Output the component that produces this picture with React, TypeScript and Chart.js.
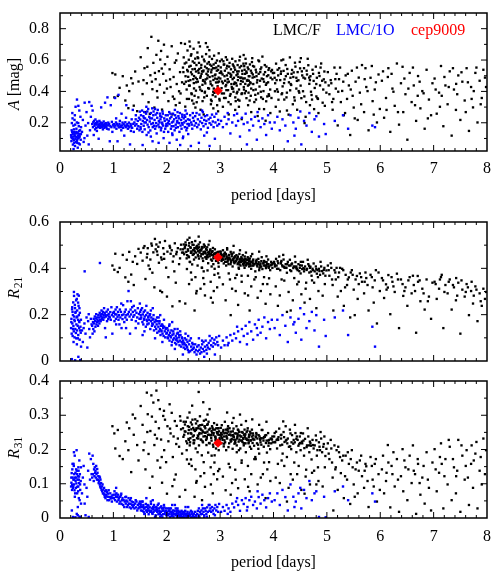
import React, { useEffect, useRef } from "react";
import { Chart, registerables } from "chart.js";
Chart.register(...registerables);

// Each row: [period (days), A (mag), R21, R31]
const LMC_F: number[][] = [
  [0.982,0.517,0.412,0.268],[1.036,0.508,0.463,0.203],[1.083,0.371,0.384,0.257],[1.117,0.423,0.402,0.181],
  [1.176,0.497,0.458,0.172],[1.224,0.342,0.361,0.224],[1.251,0.438,0.437,0.279],[1.297,0.402,0.471,0.262],
  [1.334,0.484,0.373,0.134],[1.382,0.309,0.328,0.243],[1.408,0.527,0.452,0.291],[1.446,0.274,0.419,0.213],
  [1.471,0.463,0.484,0.168],[1.018,0.362,0.394,0.247],[1.281,0.293,0.342,0.198],[1.363,0.451,0.428,0.302],
  [1.512,0.618,0.468,0.327],[1.547,0.383,0.433,0.272],[1.583,0.548,0.496,0.221],[1.601,0.268,0.354,0.142],
  [1.627,0.452,0.447,0.366],[1.644,0.676,0.487,0.303],[1.659,0.331,0.412,0.187],[1.693,0.503,0.438,0.254],
  [1.712,0.748,0.507,0.358],[1.731,0.414,0.381,0.121],[1.749,0.582,0.469,0.337],[1.768,0.297,0.318,0.213],
  [1.792,0.478,0.482,0.281],[1.806,0.633,0.503,0.372],[1.827,0.361,0.458,0.168],[1.853,0.529,0.424,0.262],
  [1.871,0.443,0.512,0.318],[1.894,0.658,0.447,0.229],[1.912,0.284,0.297,0.103],[1.934,0.512,0.487,0.298],
  [1.952,0.392,0.441,0.198],[1.967,0.573,0.518,0.287],[1.988,0.468,0.403,0.163],[2.013,0.621,0.472,0.268],
  [2.031,0.338,0.362,0.224],[2.054,0.541,0.497,0.332],[2.072,0.428,0.463,0.247],[2.093,0.688,0.478,0.307],
  [2.114,0.367,0.429,0.178],[2.128,0.492,0.452,0.238],[2.151,0.583,0.508,0.283],[2.169,0.312,0.338,0.127],
  [2.187,0.447,0.471,0.269],[2.208,0.642,0.487,0.232],[2.231,0.401,0.418,0.208],[2.249,0.523,0.443,0.297],
  [2.268,0.708,0.502,0.259],[2.287,0.458,0.468,0.188],[1.683,0.257,0.397,0.088],[1.878,0.603,0.303,0.147],
  [2.004,0.418,0.278,0.071],[2.142,0.352,0.387,0.112],[1.778,0.518,0.527,0.243],[2.241,0.327,0.258,0.062],
  [1.948,0.698,0.462,0.313],[1.564,0.472,0.488,0.198],[1.636,0.557,0.462,0.251],[1.722,0.462,0.498,0.296],
  [1.817,0.402,0.473,0.232],[1.906,0.546,0.438,0.178],[2.062,0.477,0.489,0.261],[2.178,0.598,0.461,0.216],
  [2.259,0.387,0.482,0.284],[2.106,0.253,0.236,0.093],[1.842,0.723,0.493,0.344],
  [2.304,0.552,0.482,0.262],[2.318,0.617,0.503,0.281],[2.327,0.448,0.461,0.243],[2.341,0.703,0.494,0.273],
  [2.352,0.497,0.512,0.252],[2.366,0.584,0.471,0.224],[2.373,0.412,0.443,0.198],[2.389,0.661,0.523,0.293],
  [2.394,0.528,0.482,0.268],[2.407,0.467,0.452,0.231],[2.413,0.602,0.498,0.257],[2.426,0.718,0.532,0.308],
  [2.431,0.437,0.428,0.212],[2.448,0.563,0.488,0.248],[2.452,0.628,0.467,0.279],[2.468,0.382,0.351,0.152],
  [2.473,0.509,0.513,0.273],[2.487,0.591,0.458,0.238],[2.496,0.478,0.479,0.263],[2.503,0.672,0.501,0.227],
  [2.511,0.419,0.438,0.219],[2.527,0.543,0.473,0.254],[2.534,0.609,0.518,0.288],[2.542,0.487,0.447,0.203],
  [2.556,0.568,0.493,0.262],[2.561,0.331,0.302,0.108],[2.574,0.648,0.483,0.283],[2.583,0.462,0.458,0.241],
  [2.597,0.518,0.503,0.269],[2.604,0.582,0.442,0.212],[2.615,0.428,0.468,0.248],[2.622,0.687,0.512,0.297],
  [2.638,0.497,0.452,0.229],[2.643,0.551,0.478,0.258],[2.657,0.403,0.403,0.183],[2.664,0.622,0.492,0.272],
  [2.679,0.468,0.461,0.221],[2.681,0.527,0.432,0.251],[2.696,0.603,0.503,0.284],[2.702,0.362,0.332,0.131],
  [2.718,0.558,0.472,0.239],[2.723,0.451,0.448,0.262],[2.737,0.638,0.483,0.228],[2.744,0.512,0.441,0.213],
  [2.758,0.483,0.491,0.272],[2.762,0.577,0.457,0.252],[2.776,0.421,0.422,0.191],[2.783,0.541,0.502,0.281],
  [2.797,0.663,0.468,0.243],[2.804,0.492,0.452,0.218],[2.812,0.571,0.478,0.261],[2.827,0.318,0.273,0.098],
  [2.833,0.522,0.462,0.234],[2.848,0.607,0.433,0.268],[2.851,0.438,0.471,0.249],[2.866,0.548,0.488,0.214],
  [2.874,0.473,0.443,0.242],[2.887,0.628,0.462,0.277],[2.893,0.391,0.372,0.162],[2.902,0.503,0.482,0.258],
  [2.917,0.582,0.451,0.232],[2.923,0.457,0.432,0.203],[2.938,0.532,0.468,0.251],[2.941,0.597,0.438,0.272],
  [2.953,0.433,0.458,0.221],[2.968,0.562,0.423,0.243],[2.972,0.488,0.452,0.262],[2.986,0.352,0.361,0.143],
  [2.993,0.518,0.472,0.229],[2.312,0.523,0.468,0.237],[2.337,0.578,0.487,0.253],[2.358,0.462,0.501,0.281],
  [2.383,0.537,0.457,0.218],[2.402,0.493,0.476,0.247],[2.421,0.558,0.509,0.266],[2.443,0.472,0.491,0.233],
  [2.461,0.637,0.472,0.259],[2.482,0.541,0.502,0.287],[2.507,0.453,0.463,0.241],[2.518,0.582,0.487,0.227],
  [2.548,0.527,0.468,0.276],[2.567,0.478,0.497,0.233],[2.589,0.612,0.474,0.262],[2.609,0.543,0.491,0.245],
  [2.628,0.487,0.477,0.271],[2.648,0.569,0.462,0.228],[2.669,0.442,0.489,0.255],[2.688,0.533,0.471,0.238],
  [2.708,0.592,0.492,0.267],[2.729,0.477,0.464,0.249],[2.749,0.548,0.479,0.232],[2.768,0.502,0.448,0.274],
  [2.789,0.587,0.471,0.258],[2.818,0.463,0.482,0.242],[2.839,0.538,0.457,0.226],[2.858,0.497,0.474,0.263],
  [2.879,0.572,0.448,0.248],[2.908,0.482,0.463,0.236],[2.929,0.552,0.448,0.262],[2.947,0.478,0.441,0.247],
  [2.962,0.537,0.462,0.227],[2.981,0.463,0.437,0.253],[2.998,0.592,0.459,0.242],[2.347,0.303,0.248,0.082],
  [2.454,0.522,0.382,0.171],[2.521,0.372,0.218,0.062],[2.578,0.618,0.412,0.192],[2.633,0.283,0.312,0.122],
  [2.684,0.472,0.358,0.338],[2.716,0.398,0.283,0.091],[2.764,0.683,0.391,0.302],[2.823,0.447,0.342,0.148],
  [2.862,0.377,0.252,0.072],[2.897,0.548,0.398,0.183],[2.944,0.312,0.318,0.113],[2.598,0.712,0.537,0.368],
  [2.418,0.437,0.332,0.158],[2.476,0.342,0.417,0.328],[2.552,0.458,0.292,0.103],[2.661,0.528,0.402,0.052],
  [2.802,0.622,0.518,0.318],[2.881,0.418,0.302,0.128],[2.973,0.643,0.407,0.198],[2.378,0.352,0.397,0.171],
  [2.537,0.297,0.362,0.142],[2.692,0.253,0.387,0.163],[2.841,0.338,0.408,0.182],[2.962,0.273,0.378,0.137],
  [2.437,0.687,0.427,0.221],[2.733,0.708,0.448,0.287],
  [2.512,0.498,0.478,0.258],[2.588,0.533,0.488,0.239],[2.652,0.512,0.483,0.247],[2.712,0.462,0.497,0.268],
  [2.772,0.527,0.468,0.243],[2.838,0.563,0.472,0.254],[2.912,0.508,0.466,0.238],[2.958,0.458,0.471,0.262],
  [2.416,0.352,0.448,0.228],[2.462,0.388,0.472,0.246],[2.503,0.322,0.461,0.218],[2.547,0.405,0.487,0.257],
  [2.592,0.362,0.452,0.232],[2.628,0.412,0.478,0.261],[2.671,0.338,0.443,0.224],[2.713,0.392,0.467,0.249],
  [2.751,0.372,0.452,0.236],[2.792,0.418,0.461,0.219],[2.829,0.347,0.438,0.242],[2.871,0.398,0.457,0.258],
  [2.913,0.367,0.447,0.227],[2.952,0.412,0.433,0.248],[2.991,0.342,0.452,0.233],[2.873,0.292,0.418,0.208],
  [3.004,0.482,0.451,0.242],[3.012,0.553,0.472,0.263],[3.027,0.421,0.432,0.218],[3.031,0.603,0.458,0.271],
  [3.046,0.508,0.441,0.228],[3.053,0.452,0.478,0.252],[3.068,0.571,0.421,0.209],[3.072,0.387,0.452,0.238],
  [3.089,0.532,0.468,0.281],[3.094,0.468,0.428,0.221],[3.107,0.618,0.462,0.258],[3.113,0.441,0.412,0.198],
  [3.128,0.502,0.447,0.247],[3.132,0.563,0.481,0.232],[3.149,0.408,0.437,0.268],[3.156,0.518,0.418,0.207],
  [3.163,0.462,0.458,0.243],[3.177,0.582,0.442,0.262],[3.184,0.372,0.352,0.148],[3.198,0.493,0.471,0.223],
  [3.203,0.541,0.427,0.252],[3.218,0.428,0.452,0.231],[3.226,0.608,0.461,0.278],[3.234,0.478,0.408,0.202],
  [3.247,0.523,0.441,0.238],[3.251,0.398,0.468,0.261],[3.268,0.552,0.422,0.217],[3.273,0.457,0.448,0.247],
  [3.287,0.592,0.432,0.228],[3.292,0.338,0.302,0.112],[3.306,0.503,0.457,0.268],[3.311,0.437,0.438,0.212],
  [3.328,0.568,0.418,0.241],[3.332,0.472,0.451,0.258],[3.347,0.528,0.403,0.223],[3.354,0.412,0.428,0.252],
  [3.361,0.598,0.462,0.229],[3.378,0.487,0.441,0.203],[3.383,0.447,0.412,0.238],[3.397,0.562,0.448,0.272],
  [3.402,0.383,0.368,0.161],[3.418,0.512,0.432,0.222],[3.424,0.462,0.457,0.249],[3.437,0.577,0.421,0.231],
  [3.443,0.428,0.438,0.212],[3.458,0.538,0.402,0.258],[3.461,0.483,0.451,0.237],[3.476,0.608,0.428,0.218],
  [3.482,0.402,0.412,0.192],[3.497,0.518,0.437,0.251],[3.503,0.468,0.422,0.228],[3.517,0.553,0.448,0.262],
  [3.524,0.312,0.283,0.091],[3.536,0.497,0.431,0.221],[3.541,0.443,0.408,0.243],[3.558,0.572,0.442,0.208],
  [3.563,0.458,0.418,0.252],[3.577,0.532,0.452,0.227],[3.582,0.418,0.398,0.202],[3.596,0.587,0.428,0.258],
  [3.608,0.488,0.412,0.219],[3.621,0.447,0.438,0.241],[3.637,0.558,0.418,0.211],[3.659,0.378,0.387,0.178],
  [3.677,0.522,0.431,0.248],[3.698,0.472,0.408,0.232],[3.716,0.598,0.441,0.202],[3.738,0.431,0.402,0.238],
  [3.757,0.542,0.421,0.221],[3.779,0.482,0.448,0.257],[3.801,0.352,0.332,0.128],[3.818,0.508,0.412,0.208],
  [3.837,0.568,0.428,0.237],[3.858,0.442,0.401,0.219],[3.877,0.497,0.418,0.191],[3.899,0.458,0.438,0.248],
  [3.918,0.548,0.408,0.228],[3.938,0.412,0.392,0.201],[3.957,0.528,0.428,0.218],[3.979,0.477,0.402,0.238],
  [3.018,0.527,0.463,0.248],[3.038,0.463,0.447,0.233],[3.061,0.592,0.437,0.257],[3.082,0.497,0.459,0.227],
  [3.101,0.433,0.441,0.249],[3.121,0.547,0.452,0.236],[3.142,0.478,0.429,0.261],[3.169,0.558,0.447,0.218],
  [3.191,0.513,0.438,0.244],[3.211,0.447,0.462,0.226],[3.238,0.572,0.437,0.253],[3.258,0.487,0.427,0.237],
  [3.281,0.538,0.452,0.222],[3.299,0.452,0.431,0.247],[3.318,0.527,0.441,0.232],[3.341,0.493,0.423,0.257],
  [3.367,0.553,0.437,0.241],[3.391,0.467,0.427,0.226],[3.411,0.532,0.442,0.251],[3.431,0.482,0.418,0.233],
  [3.452,0.561,0.432,0.218],[3.471,0.448,0.441,0.245],[3.491,0.527,0.417,0.232],[3.512,0.473,0.437,0.255],
  [3.531,0.542,0.422,0.228],[3.551,0.497,0.431,0.243],[3.571,0.452,0.411,0.226],[3.592,0.518,0.427,0.238],
  [3.616,0.562,0.433,0.247],[3.642,0.492,0.418,0.229],[3.668,0.538,0.428,0.236],[3.691,0.457,0.413,0.218],
  [3.722,0.512,0.427,0.242],[3.749,0.468,0.416,0.231],[3.772,0.553,0.431,0.214],[3.808,0.478,0.421,0.233],
  [3.842,0.523,0.412,0.241],[3.871,0.452,0.427,0.226],[3.906,0.537,0.418,0.211],[3.947,0.487,0.413,0.232],
  [3.988,0.517,0.422,0.221],[3.052,0.302,0.331,0.121],[3.103,0.358,0.262,0.081],[3.161,0.253,0.378,0.158],
  [3.224,0.417,0.312,0.102],[3.283,0.282,0.358,0.141],[3.337,0.347,0.242,0.087],[3.404,0.223,0.342,0.168],
  [3.462,0.388,0.292,0.113],[3.521,0.437,0.368,0.152],[3.583,0.268,0.322,0.128],[3.641,0.332,0.352,0.172],
  [3.703,0.243,0.273,0.098],[3.762,0.398,0.302,0.118],[3.823,0.287,0.362,0.162],[3.884,0.368,0.332,0.142],
  [3.941,0.262,0.288,0.108],[3.131,0.602,0.487,0.308],[3.252,0.563,0.497,0.292],[3.372,0.621,0.478,0.302],
  [3.484,0.578,0.468,0.283],[3.602,0.612,0.462,0.288],[3.731,0.592,0.472,0.272],[3.868,0.558,0.452,0.281],
  [3.198,0.318,0.198,0.068],[3.553,0.342,0.218,0.078],[3.852,0.213,0.247,0.058],[3.312,0.388,0.372,0.192],
  [3.667,0.412,0.362,0.172],[3.917,0.372,0.357,0.163],[3.441,0.632,0.412,0.218],[3.792,0.622,0.397,0.257],
  [3.023,0.517,0.449,0.238],[3.078,0.572,0.462,0.247],[3.138,0.457,0.443,0.256],[3.208,0.503,0.433,0.241],
  [3.263,0.447,0.446,0.229],[3.327,0.512,0.447,0.246],[3.398,0.488,0.436,0.238],[3.468,0.512,0.426,0.242],
  [3.538,0.468,0.441,0.236],[3.612,0.508,0.422,0.232],[3.682,0.497,0.437,0.244],[3.752,0.523,0.411,0.228],
  [3.822,0.462,0.432,0.236],[3.902,0.503,0.408,0.226],[3.972,0.537,0.417,0.229],
  [3.033,0.387,0.437,0.244],[3.074,0.358,0.452,0.217],[3.117,0.408,0.428,0.239],[3.157,0.332,0.443,0.252],
  [3.196,0.383,0.418,0.228],[3.243,0.418,0.437,0.242],[3.284,0.362,0.427,0.219],[3.323,0.397,0.441,0.237],
  [3.363,0.341,0.417,0.251],[3.408,0.388,0.432,0.226],[3.447,0.412,0.422,0.243],[3.493,0.357,0.437,0.231],
  [3.532,0.392,0.417,0.218],[3.574,0.372,0.428,0.247],[3.623,0.408,0.412,0.229],[3.672,0.348,0.422,0.238],
  [3.712,0.387,0.418,0.214],[3.768,0.362,0.407,0.233],[3.812,0.402,0.423,0.226],[3.863,0.337,0.411,0.242],
  [3.911,0.382,0.402,0.219],[3.962,0.358,0.417,0.231],[3.352,0.302,0.398,0.198],[3.732,0.288,0.392,0.188],
  [4.012,0.518,0.428,0.238],[4.031,0.452,0.412,0.221],[4.048,0.577,0.441,0.252],[4.067,0.413,0.398,0.203],
  [4.088,0.502,0.422,0.228],[4.107,0.548,0.451,0.261],[4.126,0.472,0.392,0.212],[4.148,0.598,0.432,0.243],
  [4.171,0.432,0.408,0.188],[4.189,0.531,0.438,0.251],[4.207,0.477,0.402,0.222],[4.228,0.568,0.418,0.268],
  [4.251,0.392,0.381,0.178],[4.268,0.512,0.428,0.232],[4.289,0.458,0.412,0.208],[4.307,0.617,0.437,0.258],
  [4.332,0.441,0.388,0.201],[4.348,0.537,0.421,0.242],[4.371,0.492,0.401,0.217],[4.389,0.362,0.358,0.162],
  [4.411,0.558,0.427,0.248],[4.428,0.418,0.408,0.192],[4.452,0.523,0.392,0.228],[4.467,0.471,0.418,0.211],
  [4.492,0.588,0.402,0.238],[4.508,0.437,0.378,0.198],[4.531,0.528,0.412,0.223],[4.553,0.401,0.428,0.247],
  [4.572,0.548,0.387,0.182],[4.591,0.482,0.408,0.231],[4.612,0.332,0.338,0.141],[4.628,0.508,0.398,0.212],
  [4.652,0.567,0.418,0.238],[4.671,0.448,0.382,0.192],[4.692,0.497,0.407,0.218],[4.713,0.377,0.368,0.171],
  [4.731,0.538,0.398,0.228],[4.752,0.467,0.421,0.203],[4.772,0.422,0.387,0.212],[4.793,0.558,0.408,0.241],
  [4.812,0.487,0.377,0.182],[4.833,0.352,0.362,0.148],[4.851,0.518,0.398,0.221],[4.872,0.438,0.372,0.198],
  [4.893,0.578,0.408,0.232],[4.911,0.468,0.388,0.192],[4.932,0.412,0.378,0.208],[4.953,0.527,0.402,0.238],
  [4.972,0.458,0.368,0.181],[4.991,0.392,0.391,0.202],[4.022,0.487,0.418,0.248],[4.077,0.538,0.431,0.231],
  [4.137,0.512,0.421,0.242],[4.198,0.453,0.407,0.236],[4.258,0.543,0.418,0.218],[4.318,0.487,0.412,0.247],
  [4.378,0.521,0.408,0.228],[4.438,0.467,0.397,0.238],[4.498,0.547,0.413,0.219],[4.561,0.488,0.401,0.226],
  [4.621,0.532,0.393,0.207],[4.682,0.472,0.402,0.223],[4.742,0.512,0.392,0.213],[4.802,0.447,0.397,0.227],
  [4.862,0.498,0.388,0.208],[4.942,0.477,0.393,0.216],[4.042,0.302,0.322,0.118],[4.118,0.272,0.283,0.102],
  [4.202,0.348,0.347,0.152],[4.283,0.252,0.298,0.088],[4.362,0.318,0.262,0.112],[4.443,0.283,0.331,0.128],
  [4.522,0.357,0.288,0.082],[4.602,0.238,0.312,0.121],[4.683,0.312,0.268,0.098],[4.761,0.287,0.338,0.138],
  [4.842,0.262,0.302,0.108],[4.921,0.328,0.282,0.092],[4.082,0.398,0.238,0.158],[4.322,0.447,0.218,0.128],
  [4.582,0.198,0.252,0.071],[4.803,0.368,0.228,0.098],[4.182,0.603,0.458,0.282],[4.402,0.583,0.451,0.272],
  [4.641,0.608,0.437,0.262],[4.882,0.552,0.428,0.251],[4.152,0.382,0.352,0.168],[4.472,0.402,0.342,0.152],
  [4.722,0.348,0.348,0.132],[4.962,0.308,0.332,0.148],[4.512,0.612,0.428,0.248],[4.252,0.278,0.212,0.048],
  [4.058,0.472,0.412,0.228],[4.142,0.527,0.427,0.232],[4.232,0.497,0.402,0.226],[4.338,0.512,0.418,0.221],
  [4.428,0.487,0.401,0.231],[4.538,0.502,0.397,0.218],[4.668,0.488,0.411,0.212],
  [4.027,0.401,0.408,0.222],[4.093,0.347,0.398,0.236],[4.162,0.388,0.413,0.214],[4.243,0.362,0.402,0.228],
  [4.312,0.407,0.392,0.209],[4.398,0.342,0.407,0.221],[4.483,0.392,0.388,0.216],[4.578,0.368,0.397,0.204],
  [4.702,0.398,0.386,0.211],[4.823,0.357,0.392,0.198],
  [5.018,0.523,0.412,0.218],[5.047,0.382,0.368,0.172],[5.083,0.452,0.402,0.203],[5.108,0.283,0.328,0.118],
  [5.142,0.552,0.392,0.212],[5.167,0.418,0.352,0.148],[5.203,0.183,0.278,0.082],[5.228,0.478,0.382,0.192],
  [5.262,0.332,0.302,0.131],[5.287,0.403,0.398,0.168],[5.318,0.248,0.238,0.058],[5.352,0.502,0.372,0.182],
  [5.378,0.352,0.328,0.112],[5.412,0.438,0.361,0.158],[5.437,0.122,0.188,0.041],[5.468,0.532,0.392,0.198],
  [5.503,0.297,0.308,0.098],[5.538,0.462,0.352,0.142],[5.577,0.218,0.268,0.072],[5.618,0.392,0.378,0.168],
  [5.658,0.568,0.342,0.122],[5.697,0.268,0.292,0.088],[5.738,0.428,0.358,0.151],[5.781,0.152,0.218,0.032],
  [5.818,0.487,0.372,0.178],[5.857,0.338,0.318,0.112],[5.897,0.412,0.348,0.158],[5.938,0.202,0.162,0.048],
  [5.968,0.508,0.382,0.128],[5.992,0.288,0.302,0.082],[5.072,0.472,0.422,0.228],[5.182,0.512,0.402,0.198],
  [5.307,0.462,0.392,0.182],[5.447,0.412,0.382,0.172],[5.563,0.552,0.367,0.162],[5.708,0.478,0.342,0.138],
  [5.842,0.562,0.362,0.152],[5.121,0.352,0.218,0.022],
  [5.034,0.438,0.392,0.188],[5.097,0.332,0.352,0.162],[5.158,0.478,0.382,0.142],[5.213,0.398,0.362,0.208],
  [5.247,0.552,0.402,0.178],[5.341,0.262,0.318,0.122],[5.392,0.512,0.352,0.192],[5.483,0.372,0.372,0.148],
  [5.522,0.228,0.198,0.062],[5.597,0.488,0.332,0.138],[5.642,0.318,0.362,0.182],[5.723,0.548,0.382,0.158],
  [5.762,0.402,0.328,0.108],[5.878,0.252,0.252,0.092],[5.918,0.458,0.392,0.172],
  [6.031,0.468,0.358,0.142],[6.072,0.232,0.272,0.072],[6.108,0.358,0.331,0.108],[6.152,0.548,0.371,0.162],
  [6.188,0.142,0.202,0.031],[6.228,0.418,0.342,0.128],[6.271,0.308,0.298,0.092],[6.312,0.578,0.377,0.172],
  [6.352,0.188,0.142,0.018],[6.388,0.452,0.352,0.122],[6.431,0.268,0.281,0.078],[6.472,0.382,0.318,0.148],
  [6.508,0.092,0.238,0.052],[6.551,0.518,0.362,0.182],[6.588,0.332,0.292,0.102],[6.628,0.438,0.328,0.138],
  [6.672,0.212,0.122,0.012],[6.708,0.498,0.342,0.158],[6.752,0.292,0.258,0.068],[6.788,0.402,0.312,0.118],
  [6.832,0.162,0.222,0.042],[6.868,0.538,0.352,0.192],[6.912,0.348,0.278,0.088],[6.952,0.248,0.182,0.022],
  [6.142,0.492,0.317,0.213],[6.418,0.557,0.332,0.201],[6.702,0.372,0.367,0.172],[6.978,0.452,0.338,0.162],
  [6.052,0.528,0.348,0.182],[6.118,0.282,0.308,0.132],[6.212,0.512,0.362,0.152],[6.247,0.398,0.322,0.192],
  [6.332,0.268,0.352,0.112],[6.452,0.482,0.302,0.168],[6.527,0.418,0.348,0.142],[6.612,0.552,0.368,0.212],
  [6.652,0.312,0.302,0.128],[6.738,0.462,0.348,0.102],[6.812,0.388,0.292,0.152],[6.892,0.228,0.258,0.112],
  [7.018,0.482,0.342,0.201],[7.058,0.258,0.268,0.078],[7.102,0.392,0.312,0.132],[7.138,0.562,0.362,0.218],
  [7.182,0.178,0.142,0.028],[7.221,0.438,0.328,0.172],[7.262,0.318,0.292,0.098],[7.302,0.528,0.352,0.208],
  [7.338,0.118,0.222,0.052],[7.381,0.412,0.318,0.148],[7.418,0.282,0.262,0.072],[7.462,0.502,0.338,0.228],
  [7.501,0.218,0.118,0.018],[7.538,0.462,0.308,0.182],[7.582,0.342,0.278,0.112],[7.618,0.548,0.332,0.198],
  [7.662,0.148,0.198,0.038],[7.702,0.428,0.302,0.158],[7.738,0.298,0.248,0.088],[7.782,0.518,0.322,0.188],
  [7.822,0.202,0.172,0.028],[7.862,0.468,0.292,0.138],[7.902,0.358,0.238,0.098],[7.962,0.488,0.268,0.128],
  [7.152,0.372,0.372,0.158],[7.422,0.448,0.358,0.122],[7.712,0.352,0.342,0.212],[7.932,0.538,0.312,0.232],
  [7.038,0.412,0.332,0.142],[7.118,0.302,0.352,0.178],[7.202,0.492,0.298,0.122],[7.283,0.428,0.342,0.228],
  [7.362,0.548,0.328,0.172],[7.442,0.382,0.282,0.138],[7.522,0.522,0.348,0.212],[7.602,0.268,0.298,0.152],
  [7.642,0.458,0.318,0.118],[7.752,0.402,0.282,0.168],[7.802,0.552,0.308,0.222],[7.882,0.318,0.258,0.178],
  [7.982,0.428,0.298,0.198],
];

// Each row: [period (days), A (mag), R21, R31]
const LMC_1O: number[][] = [
  [0.208,0.121,0.142,0.092],[0.214,0.083,0.182,0.103],[0.219,0.152,0.118,0.131],[0.226,0.102,0.223,0.082],
  [0.231,0.262,0.162,0.142],[0.237,0.128,0.108,0.118],[0.242,0.061,0.198,0.003],[0.248,0.112,0.253,0.092],
  [0.251,0.182,0.151,0.112],[0.258,0.088,0.128,0.152],[0.263,0.141,0.281,0.098],[0.267,0.072,0.192,0.128],
  [0.272,0.218,0.102,0.081],[0.276,0.118,0.172,0.182],[0.281,0.052,0.228,0.118],[0.287,0.098,0.138,0.002],
  [0.292,0.302,0.212,0.108],[0.298,0.132,0.121,0.088],[0.302,0.078,0.262,0.142],[0.307,0.162,0.158,0.101],
  [0.311,0.108,0.188,0.198],[0.318,0.348,0.132,0.128],[0.322,0.092,0.218,0.072],[0.327,0.138,0.288,0.112],
  [0.332,0.041,0.152,0.008],[0.338,0.118,0.178,0.122],[0.342,0.198,0.112,0.092],[0.348,0.102,0.238,0.138],
  [0.353,0.068,0.198,0.058],[0.358,0.148,0.142,0.102],[0.362,0.278,0.168,0.168],[0.368,0.112,0.092,0.052],
  [0.372,0.062,0.208,0.128],[0.378,0.128,0.004,0.082],[0.383,0.238,0.148,0.002],[0.388,0.092,0.122,0.108],
  [0.394,0.172,0.062,0.042],[0.222,0.198,0.008,0.022],[0.254,0.032,0.082,0.158],[0.284,0.188,0.003,0.072],
  [0.314,0.082,0.268,0.012],[0.344,0.308,0.018,0.148],[0.364,0.122,0.228,0.004],[0.261,0.158,0.298,0.192],
  [0.334,0.102,0.098,0.032],[0.212,0.108,0.168,0.118],[0.228,0.142,0.232,0.097],[0.244,0.098,0.138,0.088],
  [0.269,0.128,0.178,0.112],[0.289,0.112,0.208,0.132],[0.305,0.142,0.098,0.118],[0.324,0.072,0.192,0.091],
  [0.339,0.132,0.252,0.078],[0.357,0.108,0.172,0.121],[0.376,0.152,0.132,0.098],[0.235,0.228,0.212,0.158],
  [0.278,0.248,0.242,0.062],[0.316,0.202,0.072,0.138],[0.352,0.178,0.282,0.112],[0.392,0.128,0.178,0.148],
  [0.412,0.142,0.132,0.072],[0.428,0.218,0.082,0.118],[0.462,0.328,0.387,0.042],[0.458,0.102,0.162,0.098],
  [0.478,0.182,0.118,0.008],[0.497,0.268,0.188,0.088],[0.512,0.118,0.058,0.062],[0.527,0.198,0.172,0.138],
  [0.548,0.332,0.138,0.188],[0.562,0.152,0.102,0.112],[0.578,0.238,0.182,0.172],[0.592,0.308,0.158,0.128],
  [0.443,0.078,0.142,0.152],[0.538,0.062,0.202,0.003],
  [0.603,0.192,0.152,0.118],[0.611,0.278,0.118,0.182],[0.618,0.172,0.168,0.128],[0.624,0.203,0.138,0.158],
  [0.632,0.122,0.182,0.108],[0.638,0.212,0.162,0.142],[0.645,0.181,0.128,0.122],[0.652,0.193,0.192,0.148],
  [0.658,0.158,0.172,0.132],[0.664,0.221,0.148,0.138],[0.671,0.198,0.183,0.118],[0.678,0.168,0.202,0.152],
  [0.683,0.188,0.158,0.128],[0.691,0.148,0.188,0.112],[0.697,0.208,0.168,0.143],[0.748,0.178,0.423,0.118],
  [0.703,0.201,0.178,0.132],[0.712,0.172,0.152,0.112],[0.718,0.188,0.198,0.122],[0.724,0.098,0.172,0.102],
  [0.731,0.182,0.188,0.108],[0.738,0.212,0.162,0.121],[0.744,0.191,0.208,0.098],[0.752,0.168,0.178,0.092],
  [0.758,0.202,0.198,0.112],[0.763,0.178,0.172,0.088],[0.771,0.298,0.192,0.102],[0.778,0.192,0.218,0.082],
  [0.784,0.172,0.182,0.092],[0.791,0.198,0.202,0.078],[0.797,0.182,0.188,0.098],[0.804,0.158,0.212,0.072],
  [0.812,0.188,0.178,0.083],[0.818,0.208,0.198,0.071],[0.826,0.178,0.228,0.088],[0.831,0.168,0.188,0.068],
  [0.838,0.192,0.208,0.062],[0.844,0.328,0.142,0.078],[0.852,0.182,0.198,0.058],[0.858,0.198,0.102,0.068],
  [0.866,0.173,0.192,0.081],[0.873,0.188,0.213,0.063],[0.881,0.162,0.172,0.076],[0.889,0.362,0.198,0.052],
  [0.897,0.183,0.222,0.071],[0.904,0.201,0.181,0.062],[0.912,0.158,0.203,0.081],[0.921,0.192,0.192,0.052],
  [0.933,0.082,0.188,0.061],[0.942,0.178,0.211,0.072],[0.951,0.312,0.178,0.057],[0.963,0.172,0.232,0.062],
  [0.972,0.206,0.198,0.048],[0.981,0.142,0.118,0.066],[0.993,0.188,0.208,0.058],
  [1.004,0.182,0.192,0.068],[1.012,0.191,0.212,0.058],[1.021,0.171,0.172,0.078],[1.032,0.358,0.202,0.052],
  [1.041,0.183,0.222,0.068],[1.048,0.202,0.182,0.062],[1.057,0.162,0.201,0.072],[1.066,0.193,0.232,0.048],
  [1.078,0.082,0.191,0.061],[1.087,0.182,0.212,0.068],[1.096,0.378,0.178,0.052],[1.104,0.171,0.198,0.058],
  [1.113,0.193,0.158,0.042],[1.122,0.212,0.222,0.062],[1.131,0.181,0.188,0.048],[1.142,0.172,0.212,0.066],
  [1.153,0.258,0.142,0.041],[1.162,0.183,0.198,0.052],[1.171,0.201,0.181,0.058],[1.183,0.168,0.241,0.038],
  [1.192,0.192,0.201,0.052],[1.204,0.118,0.168,0.032],[1.213,0.182,0.212,0.048],[1.224,0.203,0.188,0.061],
  [1.232,0.172,0.222,0.042],[1.243,0.312,0.198,0.051],[1.252,0.183,0.178,0.032],[1.263,0.191,0.258,0.048],
  [1.272,0.162,0.202,0.038],[1.284,0.178,0.302,0.058],[1.291,0.201,0.212,0.042],[1.303,0.171,0.192,0.031],
  [1.312,0.062,0.118,0.052],[1.323,0.192,0.222,0.041],[1.332,0.181,0.201,0.028],[1.343,0.222,0.178,0.048],
  [1.352,0.168,0.232,0.038],[1.364,0.282,0.212,0.032],[1.373,0.193,0.191,0.046],[1.382,0.142,0.238,0.038],
  [1.394,0.202,0.198,0.028],[1.408,0.182,0.218,0.042],[1.421,0.248,0.172,0.031],[1.433,0.191,0.208,0.048],
  [1.447,0.162,0.188,0.022],[1.458,0.212,0.228,0.038],[1.468,0.178,0.162,0.028],[1.479,0.232,0.203,0.042],
  [1.489,0.152,0.182,0.032],[1.052,0.228,0.158,0.088],[1.148,0.152,0.248,0.071],[1.238,0.232,0.142,0.062],
  [1.328,0.148,0.258,0.058],[1.418,0.222,0.142,0.052],[1.496,0.271,0.248,0.048],
  [1.503,0.221,0.212,0.031],[1.509,0.172,0.182,0.042],[1.517,0.248,0.221,0.022],[1.523,0.192,0.188,0.032],
  [1.538,0.278,0.228,0.048],[1.544,0.142,0.168,0.021],[1.552,0.212,0.201,0.032],[1.561,0.242,0.158,0.038],
  [1.568,0.181,0.212,0.018],[1.577,0.268,0.182,0.028],[1.587,0.158,0.192,0.012],[1.593,0.228,0.218,0.031],
  [1.608,0.202,0.148,0.041],[1.614,0.258,0.198,0.022],[1.623,0.122,0.178,0.032],[1.631,0.218,0.172,0.018],
  [1.641,0.188,0.208,0.038],[1.652,0.288,0.188,0.028],[1.661,0.172,0.162,0.011],[1.672,0.238,0.178,0.022],
  [1.681,0.208,0.198,0.031],[1.692,0.151,0.138,0.018],[1.704,0.262,0.172,0.041],[1.711,0.192,0.188,0.021],
  [1.723,0.228,0.152,0.028],[1.734,0.082,0.178,0.012],[1.742,0.198,0.158,0.032],[1.753,0.272,0.198,0.018],
  [1.761,0.181,0.132,0.038],[1.772,0.218,0.168,0.022],[1.783,0.162,0.148,0.031],[1.791,0.252,0.178,0.008],
  [1.802,0.198,0.138,0.022],[1.811,0.132,0.158,0.028],[1.822,0.232,0.122,0.018],[1.831,0.282,0.172,0.038],
  [1.843,0.188,0.148,0.011],[1.852,0.212,0.128,0.028],[1.861,0.172,0.162,0.021],[1.872,0.258,0.138,0.012],
  [1.883,0.222,0.112,0.031],[1.891,0.152,0.152,0.018],[1.902,0.238,0.128,0.008],[1.913,0.201,0.158,0.028],
  [1.921,0.272,0.118,0.021],[1.932,0.182,0.142,0.011],[1.941,0.102,0.108,0.022],[1.953,0.228,0.148,0.031],
  [1.962,0.212,0.128,0.012],[1.972,0.162,0.102,0.018],[1.981,0.248,0.138,0.028],[1.992,0.192,0.118,0.008],
  [1.548,0.058,0.112,0.048],[1.618,0.302,0.238,0.058],[1.702,0.112,0.218,0.048],[1.781,0.288,0.098,0.003],
  [1.848,0.072,0.188,0.042],[1.918,0.192,0.082,0.002],[1.582,0.202,0.128,0.012],[1.738,0.172,0.228,0.052],
  [1.878,0.242,0.198,0.004],[1.948,0.142,0.178,0.038],[1.512,0.162,0.198,0.038],[1.572,0.232,0.178,0.028],
  [1.636,0.272,0.158,0.022],[1.688,0.228,0.202,0.018],[1.748,0.248,0.182,0.026],[1.806,0.178,0.172,0.032],
  [1.866,0.202,0.172,0.018],[1.926,0.258,0.152,0.028],[1.986,0.178,0.142,0.021],[1.658,0.138,0.192,0.036],
  [1.728,0.292,0.162,0.014],[1.818,0.262,0.188,0.024],[1.898,0.168,0.132,0.034],
  [2.003,0.221,0.122,0.018],[2.011,0.182,0.142,0.011],[2.018,0.248,0.102,0.028],[2.027,0.142,0.132,0.008],
  [2.038,0.212,0.112,0.021],[2.046,0.268,0.152,0.012],[2.052,0.192,0.088,0.022],[2.063,0.228,0.122,0.003],
  [2.078,0.162,0.102,0.028],[2.087,0.238,0.132,0.012],[2.098,0.202,0.082,0.018],[2.107,0.122,0.112,0.008],
  [2.118,0.258,0.092,0.022],[2.127,0.178,0.118,0.004],[2.138,0.222,0.098,0.012],[2.148,0.152,0.138,0.021],
  [2.157,0.248,0.078,0.011],[2.168,0.188,0.108,0.028],[2.178,0.232,0.072,0.012],[2.187,0.092,0.098,0.018],
  [2.198,0.212,0.088,0.003],[2.207,0.172,0.122,0.012],[2.218,0.242,0.082,0.021],[2.227,0.198,0.102,0.008],
  [2.238,0.142,0.068,0.002],[2.247,0.262,0.088,0.018],[2.258,0.182,0.112,0.011],[2.268,0.218,0.062,0.008],
  [2.277,0.162,0.082,0.021],[2.288,0.252,0.098,0.003],[2.297,0.188,0.072,0.012],[2.308,0.112,0.088,0.018],
  [2.317,0.228,0.058,0.008],[2.328,0.202,0.078,0.002],[2.338,0.172,0.098,0.012],[2.346,0.238,0.052,0.021],
  [2.357,0.212,0.068,0.008],[2.368,0.152,0.092,0.003],[2.377,0.258,0.062,0.012],[2.388,0.192,0.082,0.018],
  [2.397,0.222,0.048,0.004],[2.418,0.182,0.072,0.011],[2.438,0.248,0.042,0.008],[2.458,0.202,0.062,0.002],
  [2.478,0.162,0.078,0.018],[2.492,0.232,0.052,0.008],[2.052,0.072,0.158,0.028],[2.152,0.282,0.052,0.038],
  [2.252,0.058,0.128,0.003],[2.352,0.278,0.118,0.032],[2.452,0.052,0.098,0.021],[2.102,0.132,0.168,0.038],
  [2.202,0.268,0.138,0.028],[2.302,0.102,0.028,0.002],[2.402,0.128,0.108,0.032],[2.022,0.198,0.098,0.012],
  [2.068,0.258,0.108,0.018],[2.122,0.208,0.128,0.014],[2.172,0.168,0.092,0.008],[2.232,0.228,0.112,0.016],
  [2.282,0.198,0.102,0.012],[2.332,0.248,0.072,0.014],[2.382,0.168,0.058,0.006],[2.428,0.218,0.088,0.016],
  [2.468,0.188,0.048,0.012],[2.488,0.262,0.072,0.004],[2.092,0.178,0.068,0.006],[2.192,0.202,0.118,0.022],
  [2.292,0.238,0.082,0.014],[2.412,0.192,0.038,0.006],
  [2.508,0.212,0.058,0.012],[2.521,0.182,0.038,0.003],[2.533,0.242,0.072,0.018],[2.546,0.198,0.048,0.008],
  [2.558,0.262,0.028,0.002],[2.571,0.172,0.062,0.012],[2.583,0.222,0.042,0.021],[2.597,0.188,0.068,0.008],
  [2.612,0.252,0.048,0.003],[2.624,0.208,0.032,0.018],[2.638,0.158,0.058,0.011],[2.651,0.232,0.038,0.022],
  [2.663,0.198,0.072,0.012],[2.677,0.268,0.052,0.028],[2.689,0.178,0.082,0.018],[2.702,0.218,0.042,0.008],
  [2.716,0.242,0.062,0.028],[2.729,0.192,0.088,0.021],[2.742,0.212,0.048,0.012],[2.757,0.248,0.068,0.031],
  [2.771,0.168,0.058,0.018],[2.786,0.222,0.078,0.038],[2.802,0.198,0.052,0.021],[2.818,0.232,0.088,0.028],
  [2.833,0.188,0.068,0.018],[2.848,0.252,0.098,0.032],[2.863,0.208,0.062,0.022],[2.878,0.172,0.078,0.012],
  [2.893,0.238,0.092,0.028],[2.912,0.202,0.072,0.038],[2.928,0.258,0.102,0.022],[2.947,0.182,0.082,0.032],
  [2.963,0.218,0.068,0.018],[2.981,0.192,0.108,0.041],[2.602,0.072,0.098,0.028],[2.702,0.118,0.018,0.002],
  [2.802,0.052,0.108,0.038],[2.902,0.098,0.028,0.008],[2.662,0.278,0.088,0.038],[2.752,0.138,0.032,0.004],
  [3.018,0.212,0.058,0.018],[3.052,0.172,0.088,0.032],[3.083,0.238,0.068,0.021],[3.121,0.192,0.102,0.038],
  [3.158,0.222,0.078,0.028],[3.192,0.132,0.112,0.018],[3.228,0.202,0.088,0.042],[3.262,0.248,0.118,0.031],
  [3.298,0.182,0.098,0.048],[3.337,0.212,0.128,0.038],[3.372,0.112,0.082,0.021],[3.408,0.232,0.138,0.052],
  [3.442,0.192,0.108,0.041],[3.478,0.258,0.152,0.058],[3.512,0.202,0.118,0.032],[3.548,0.152,0.168,0.052],
  [3.583,0.222,0.128,0.062],[3.618,0.182,0.092,0.038],[3.652,0.238,0.158,0.048],[3.688,0.092,0.142,0.028],
  [3.722,0.212,0.178,0.061],[3.758,0.172,0.122,0.042],[3.792,0.228,0.148,0.068],[3.828,0.192,0.188,0.052],
  [3.862,0.122,0.098,0.031],[3.898,0.248,0.168,0.058],[3.932,0.202,0.138,0.072],[3.968,0.162,0.178,0.048],
  [3.142,0.262,0.068,0.012],[3.318,0.258,0.148,0.058],[3.502,0.062,0.072,0.022],[3.702,0.268,0.112,0.078],
  [4.021,0.202,0.142,0.052],[4.072,0.238,0.178,0.072],[4.118,0.152,0.112,0.038],[4.168,0.222,0.198,0.082],
  [4.222,0.182,0.152,0.061],[4.268,0.082,0.082,0.022],[4.318,0.248,0.188,0.098],[4.372,0.202,0.158,0.062],
  [4.418,0.162,0.122,0.048],[4.468,0.232,0.182,0.072],[4.521,0.062,0.092,0.028],[4.572,0.212,0.202,0.082],
  [4.618,0.182,0.142,0.058],[4.672,0.262,0.172,0.108],[4.718,0.142,0.212,0.052],[4.768,0.222,0.132,0.072],
  [4.852,0.112,0.062,0.003],[4.948,0.192,0.178,0.062],[4.502,0.272,0.228,0.088],[4.802,0.242,0.198,0.078],
  [4.978,0.128,0.108,0.002],[4.392,0.118,0.168,0.032],
  [5.148,0.212,0.188,0.078],[5.302,0.248,0.218,0.092],[5.398,0.162,0.112,0.052],[5.852,0.182,0.148,0.072],
  [5.902,0.172,0.062,0.048],
];

// cep9009: period, A, R21, R31
const CEP9009_PERIOD = 2.96;
const CEP9009_A = 0.404;
const CEP9009_R21 = 0.448;
const CEP9009_R31 = 0.219;

const X_TICKS = [0, 1, 2, 3, 4, 5, 6, 7, 8];
const A_TICKS = [0.2, 0.4, 0.6, 0.8];
const R21_TICKS = [0, 0.2, 0.4, 0.6];
const R31_TICKS = [0, 0.1, 0.2, 0.3, 0.4];

const LEGEND_LABELS = ["LMC/F", "LMC/1O", "cep9009"];
const X_TITLE = "period [days]";

const FONT = '"Liberation Serif", "Times New Roman", serif';
const BLACK = "#000000";
const BLUE = "#0000ff";
const RED = "#ff0000";

type Spec = {
  col: number;
  cep: number;
  top: number;
  height: number;
  padTop: number;
  xAxisHeight: number;
  showX: boolean;
  xLabelPad: number;
  yMin: number;
  yMax: number;
  yTicks: number[];
  yMinor: number;
  title: "A" | "R21" | "R31";
  titleCy: number;
  legend: boolean;
};

const SPECS: Spec[] = [
  { col: 1, cep: CEP9009_A, top: 0, height: 210, padTop: 13, xAxisHeight: 59, showX: true, xLabelPad: 8,
    yMin: 0.02, yMax: 0.9, yTicks: A_TICKS, yMinor: 0.1, title: "A", titleCy: 84, legend: true },
  { col: 2, cep: CEP9009_R21, top: 210, height: 160, padTop: 12, xAxisHeight: 9, showX: false, xLabelPad: 8,
    yMin: 0, yMax: 0.6, yTicks: R21_TICKS, yMinor: 0.1, title: "R21", titleCy: 78, legend: false },
  { col: 3, cep: CEP9009_R31, top: 370, height: 208, padTop: 11, xAxisHeight: 60, showX: true, xLabelPad: 9,
    yMin: 0, yMax: 0.4, yTicks: R31_TICKS, yMinor: 0.05, title: "R31", titleCy: 78, legend: false },
];

function fmt(v: number): string {
  if (Math.abs(v) < 1e-9) return "0";
  return v.toFixed(1);
}

function makeDecor(spec: Spec) {
  return {
    id: "decor" + spec.col,
    afterDraw(chart: any) {
      const ctx = chart.ctx as CanvasRenderingContext2D;
      const a = chart.chartArea;
      const xs = chart.scales.x;
      const ys = chart.scales.y;
      ctx.save();
      ctx.strokeStyle = BLACK;
      ctx.lineWidth = 1.5;
      ctx.strokeRect(a.left, a.top, a.right - a.left, a.bottom - a.top);
      ctx.lineWidth = 1;
      ctx.beginPath();
      for (let i = 1; i < 40; i++) {
        const px = xs.getPixelForValue(i * 0.2);
        const len = i % 5 === 0 ? 6 : 3;
        ctx.moveTo(px, a.bottom);
        ctx.lineTo(px, a.bottom - len);
        ctx.moveTo(px, a.top);
        ctx.lineTo(px, a.top + len);
      }
      const n0 = Math.ceil(spec.yMin / spec.yMinor - 1e-6);
      const n1 = Math.floor(spec.yMax / spec.yMinor + 1e-6);
      for (let i = n0; i <= n1; i++) {
        const py = ys.getPixelForValue(i * spec.yMinor);
        if (py <= a.top + 0.5 || py >= a.bottom - 0.5) continue;
        const len = i % 2 === 0 ? 6 : 3;
        ctx.moveTo(a.left, py);
        ctx.lineTo(a.left + len, py);
        ctx.moveTo(a.right, py);
        ctx.lineTo(a.right - len, py);
      }
      ctx.stroke();

      ctx.fillStyle = BLACK;
      if (spec.showX) {
        ctx.font = `16px ${FONT}`;
        ctx.textAlign = "center";
        ctx.textBaseline = "middle";
        ctx.fillText(X_TITLE, (a.left + a.right) / 2, a.bottom + 44.5);
      }
      ctx.save();
      ctx.translate(18.5, spec.titleCy);
      ctx.rotate(-Math.PI / 2);
      ctx.textAlign = "left";
      ctx.textBaseline = "alphabetic";
      if (spec.title === "A") {
        const f1 = `italic 16px ${FONT}`;
        const f2 = `16px ${FONT}`;
        ctx.font = f1;
        const w1 = ctx.measureText("A").width;
        ctx.font = f2;
        const w2 = ctx.measureText(" [mag]").width;
        const x0 = -(w1 + w2) / 2;
        ctx.font = f1;
        ctx.fillText("A", x0, 0);
        ctx.font = f2;
        ctx.fillText(" [mag]", x0 + w1, 0);
      } else {
        const sub = spec.title === "R21" ? "21" : "31";
        const f1 = `italic 16px ${FONT}`;
        const f2 = `11.5px ${FONT}`;
        ctx.font = f1;
        const w1 = ctx.measureText("R").width;
        ctx.font = f2;
        const w2 = ctx.measureText(sub).width;
        const x0 = -(w1 + w2) / 2;
        ctx.font = f1;
        ctx.fillText("R", x0, 0);
        ctx.font = f2;
        ctx.fillText(sub, x0 + w1 + 0.5, 3);
      }
      ctx.restore();
      if (spec.legend) {
        ctx.font = `16px ${FONT}`;
        ctx.textAlign = "left";
        ctx.textBaseline = "alphabetic";
        const xsPos = [273, 336, 411];
        const cols = [BLACK, BLUE, RED];
        LEGEND_LABELS.forEach((t, i) => {
          ctx.fillStyle = cols[i];
          ctx.fillText(t, xsPos[i], 34.5);
        });
      }
      ctx.restore();
    },
  };
}

function Panel({ spec }: { spec: Spec }) {
  const ref = useRef<HTMLCanvasElement>(null);
  useEffect(() => {
    if (!ref.current) return;
    const pick = (rows: number[][]) => rows.map((r) => ({ x: r[0], y: r[spec.col] }));
    const chart = new Chart(ref.current, {
      type: "scatter",
      data: {
        datasets: [
          {
            label: LEGEND_LABELS[2],
            data: [{ x: CEP9009_PERIOD, y: spec.cep }],
            backgroundColor: RED,
            borderWidth: 0,
            pointStyle: "rectRot",
            pointRadius: 4.8,
            order: 0,
          },
          {
            label: LEGEND_LABELS[1],
            data: pick(LMC_1O),
            backgroundColor: BLUE,
            borderWidth: 0,
            pointStyle: "rect",
            pointRadius: 1.7,
            order: 1,
          },
          {
            label: LEGEND_LABELS[0],
            data: pick(LMC_F),
            backgroundColor: BLACK,
            borderWidth: 0,
            pointStyle: "rect",
            pointRadius: 1.65,
            order: 2,
          },
        ],
      },
      options: {
        responsive: false,
        animation: false,
        events: [],
        layout: { padding: { top: spec.padTop, right: 13, left: 0, bottom: 0 } },
        plugins: { legend: { display: false }, tooltip: { enabled: false }, title: { display: false } },
        scales: {
          x: {
            type: "linear",
            min: 0,
            max: 8,
            grid: { display: false, drawTicks: false },
            border: { display: false },
            afterBuildTicks: (s: any) => {
              s.ticks = X_TICKS.map((v) => ({ value: v }));
            },
            afterFit: (s: any) => {
              s.height = spec.xAxisHeight;
              s.paddingLeft = 0;
              s.paddingRight = 0;
            },
            ticks: {
              display: spec.showX,
              autoSkip: false,
              maxRotation: 0,
              padding: spec.xLabelPad,
              color: BLACK,
              font: { family: FONT, size: 16 },
              callback: (v: any) => String(v),
            },
          },
          y: {
            type: "linear",
            min: spec.yMin,
            max: spec.yMax,
            grid: { display: false, drawTicks: false },
            border: { display: false },
            afterBuildTicks: (s: any) => {
              s.ticks = spec.yTicks.map((v) => ({ value: v }));
            },
            afterFit: (s: any) => {
              s.width = 60;
              s.paddingTop = 0;
              s.paddingBottom = 0;
            },
            ticks: {
              autoSkip: false,
              padding: 11,
              color: BLACK,
              font: { family: FONT, size: 16 },
              callback: (v: any) => fmt(Number(v)),
            },
          },
        },
      },
      plugins: [makeDecor(spec)],
    } as any);
    return () => chart.destroy();
  }, []);
  return (
    <div style={{ position: "absolute", left: 0, top: spec.top, width: 500, height: spec.height }}>
      <canvas ref={ref} width={500} height={spec.height} style={{ display: "block" }} />
    </div>
  );
}

export default function App() {
  return (
    <div style={{ position: "absolute", left: 0, top: 0, width: 500, height: 578, background: "#fff" }}>
      {SPECS.map((s) => (
        <Panel key={s.col} spec={s} />
      ))}
    </div>
  );
}
